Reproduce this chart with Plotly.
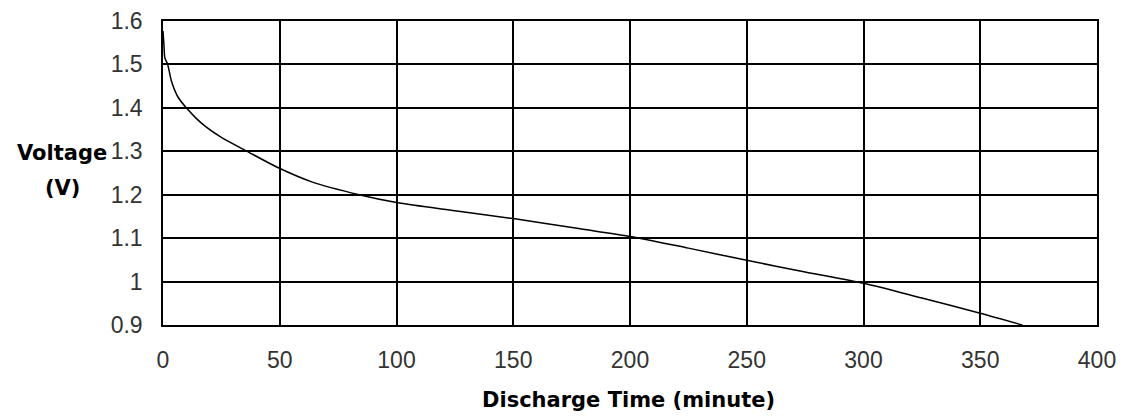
import plotly.graph_objects as go

time_min = [0, 0.4, 0.8, 2, 3.7, 6.4, 10, 14, 18, 25, 36, 49.4, 64, 84, 100, 125, 150, 178, 200, 225, 250, 275, 300, 325, 350, 368]
voltage = [1.577, 1.545, 1.515, 1.50, 1.46, 1.425, 1.40, 1.377, 1.358, 1.332, 1.30, 1.262, 1.229, 1.20, 1.182, 1.163, 1.145, 1.122, 1.104, 1.077, 1.049, 1.022, 0.996, 0.962, 0.927, 0.90]

x_ticks = [0, 50, 100, 150, 200, 250, 300, 350, 400]
y_ticks = [0.9, 1.0, 1.1, 1.2, 1.3, 1.4, 1.5, 1.6]
y_tick_labels = ["0.9", "1", "1.1", "1.2", "1.3", "1.4", "1.5", "1.6"]

x_title = "Discharge Time (minute)"
y_title_1 = "Voltage"
y_title_2 = "(V)"

fig = go.Figure()
fig.add_trace(go.Scatter(x=time_min, y=voltage, mode="lines",
                         line=dict(color="black", width=1.5, shape="spline", smoothing=0.8),
                         showlegend=False, hoverinfo="skip"))

tickfont = dict(family="Liberation Sans, Arial", size=23, color="#333333")
titlefont = dict(family="DejaVu Sans", size=21, color="black")

fig.update_layout(
    width=1123, height=419,
    margin=dict(l=163, r=26, t=21, b=94),
    paper_bgcolor="white", plot_bgcolor="white",
    xaxis=dict(range=[0, 400], tickvals=x_ticks, ticktext=[str(v) for v in x_ticks],
               showgrid=True, gridcolor="black", gridwidth=1.5,
               showline=True, linecolor="black", linewidth=1.5, mirror=True,
               zeroline=False, ticks="", ticklabelstandoff=14, tickfont=tickfont,
               automargin=False),
    yaxis=dict(range=[0.9, 1.6], tickvals=y_ticks, ticktext=y_tick_labels,
               showgrid=True, gridcolor="black", gridwidth=1.5,
               showline=True, linecolor="black", linewidth=1.5, mirror=True,
               zeroline=False, ticks="", ticklabelstandoff=14, tickfont=tickfont,
               automargin=False),
    annotations=[
        dict(text="<b>%s</b>" % y_title_1, xref="paper", yref="paper", x=-0.108, y=0.566,
             xanchor="center", yanchor="middle", showarrow=False, font=titlefont),
        dict(text="<b>%s</b>" % y_title_2, xref="paper", yref="paper", x=-0.108, y=0.451,
             xanchor="center", yanchor="middle", showarrow=False, font=titlefont),
        dict(text="<b>%s</b>" % x_title, xref="paper", yref="paper", x=0.498, y=-0.247,
             xanchor="center", yanchor="middle", showarrow=False, font=titlefont),
    ],
)

fig.write_html("out.html", config={"displayModeBar": False},
               post_script="document.body.style.margin='0';document.body.style.overflow='hidden';")
